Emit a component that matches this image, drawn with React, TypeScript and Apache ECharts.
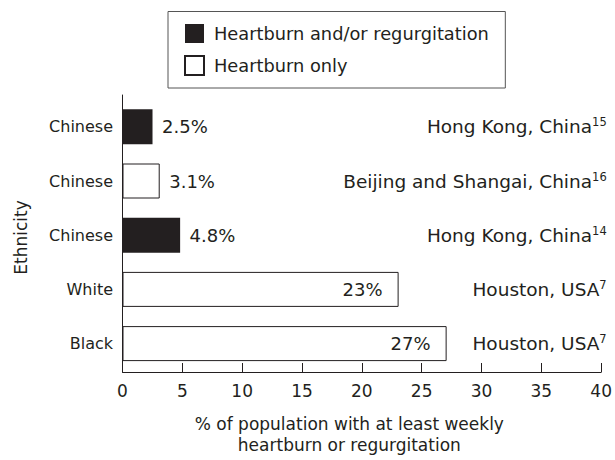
import React, { useEffect, useRef } from "react";
import * as echarts from "echarts";

const ethnicity = ["Chinese", "Chinese", "Chinese", "White", "Black"];
const locations = [
  "Hong Kong, China",
  "Beijing and Shangai, China",
  "Hong Kong, China",
  "Houston, USA",
  "Houston, USA",
];
const refs = ["15", "16", "14", "7", "7"];
const bothValues: (number | null)[] = [2.5, null, 4.8, null, null];
const onlyValues: (number | null)[] = [null, 3.1, null, 23, 27];
const xTicks = [0, 5, 10, 15, 20, 25, 30, 35, 40];
const seriesNames = ["Heartburn and/or regurgitation", "Heartburn only"];

const INK = "#231f20";
const FONT = "DejaVu Sans";

export default function App() {
  const ref = useRef<HTMLDivElement>(null);
  useEffect(() => {
    document.body.style.margin = "0";
    if (!ref.current) return;
    const chart = echarts.init(ref.current, undefined, { renderer: "svg" });
    const keys = ethnicity.map((_, i) => "c" + i);
    const mkData = (vals: (number | null)[]) =>
      vals.map((v) =>
        v == null
          ? "-"
          : {
              value: v,
              label:
                v > 10
                  ? { position: "insideRight", distance: 16 }
                  : { position: "right", distance: 9.5 },
            }
      );
    const labelCfg = {
      show: true,
      formatter: (p: any) => p.value + "%",
      color: INK,
      fontSize: 18,
      fontFamily: FONT,
    };
    chart.setOption({
      animation: false,
      textStyle: { fontFamily: FONT, color: INK },
      legend: {
        orient: "vertical",
        left: 168,
        top: 11.5,
        padding: [12.5, 16.5, 12, 16],
        borderColor: "#555",
        borderWidth: 1,
        itemWidth: 19,
        itemHeight: 19,
        itemGap: 12,
        icon: "rect",
        data: seriesNames,
        textStyle: { color: INK, fontSize: 17.8, fontFamily: FONT, padding: [0, 0, 0, 5] },
      },
      grid: [
        { left: 122.5, right: 12.3, top: 99.7, height: 271, containLabel: false },
        { left: 122.5, right: 12.3, top: 95, bottom: 80.7, containLabel: false },
      ],
      xAxis: [
        { type: "value", gridIndex: 0, min: 0, max: 40, show: false },
        {
          type: "value",
          gridIndex: 1,
          min: 0,
          max: 40,
          interval: 5,
          axisLine: { show: true, lineStyle: { color: INK, width: 1 } },
          axisTick: { show: true, inside: true, length: 9, lineStyle: { color: INK } },
          splitLine: { show: false },
          axisLabel: {
            color: INK,
            fontSize: 17,
            margin: 10,
            formatter: (v: number) => (xTicks.includes(v) ? String(v) : ""),
          },
          name: "% of population with at least weekly\nheartburn or regurgitation",
          nameLocation: "middle",
          nameGap: 41,
          nameTextStyle: { color: INK, fontSize: 17, lineHeight: 21, padding: [0, 25, 0, 0] },
        },
      ],
      yAxis: [
        {
          type: "category",
          gridIndex: 0,
          data: keys,
          inverse: true,
          axisLine: { show: false },
          axisTick: { show: false },
          axisLabel: {
            color: INK,
            fontSize: 16,
            margin: 9.5,
            formatter: (_v: string, i: number) => ethnicity[i],
          },
        },
        {
          type: "category",
          gridIndex: 0,
          data: keys,
          inverse: true,
          position: "right",
          offset: 4,
          axisLine: { show: false },
          axisTick: { show: false },
          axisLabel: {
            inside: true,
            margin: 0,
            formatter: (_v: string, i: number) => `{m|${locations[i]}}{s|${refs[i]}}`,
            rich: {
              m: { fontSize: 18.5, color: INK, fontFamily: FONT, lineHeight: 21 },
              s: { fontSize: 11.5, color: INK, fontFamily: FONT, verticalAlign: "top", lineHeight: 12 },
            },
          },
        },
        {
          type: "value",
          gridIndex: 1,
          min: 0,
          max: 1,
          axisLine: { show: true, lineStyle: { color: INK, width: 1 } },
          axisTick: { show: false },
          axisLabel: { show: false },
          splitLine: { show: false },
          name: "Ethnicity",
          nameLocation: "middle",
          nameGap: 93,
          nameTextStyle: { color: INK, fontSize: 17, padding: [0, 8, 0, 0] },
        },
      ],
      series: [
        {
          name: seriesNames[0],
          type: "bar",
          xAxisIndex: 0,
          yAxisIndex: 0,
          barWidth: 35,
          barGap: "-100%",
          itemStyle: { color: INK },
          label: labelCfg,
          data: mkData(bothValues),
        },
        {
          name: seriesNames[1],
          type: "bar",
          xAxisIndex: 0,
          yAxisIndex: 0,
          barWidth: 35,
          barGap: "-100%",
          itemStyle: { color: "#ffffff", borderColor: INK, borderWidth: 1 },
          label: labelCfg,
          data: mkData(onlyValues),
        },
      ],
    });
    return () => chart.dispose();
  }, []);
  return <div ref={ref} style={{ width: 615, height: 460 }} />;
}
